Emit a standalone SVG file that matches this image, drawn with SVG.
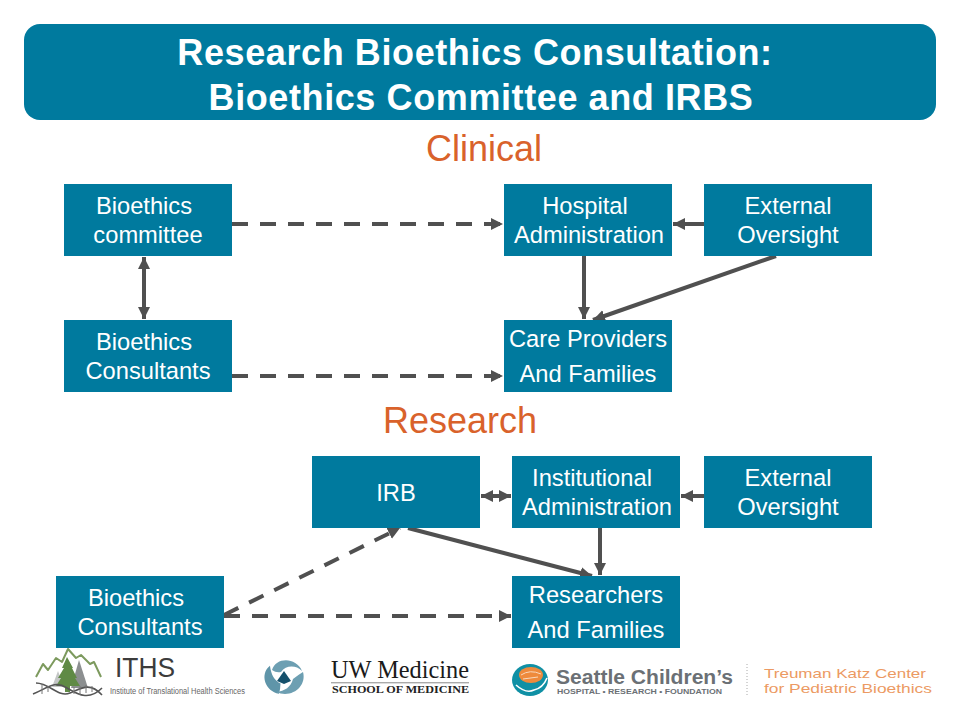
<svg xmlns="http://www.w3.org/2000/svg" width="960" height="720" viewBox="0 0 960 720">
<style>
text{font-family:"Liberation Sans",Arial,sans-serif}
.box{fill:#007a9e}
.t{fill:#fff;font-size:23.7px;text-anchor:middle}
.h{fill:#d9622b;font-size:36px;text-anchor:middle}
.title{fill:#fff;font-size:36px;font-weight:bold;text-anchor:middle;letter-spacing:.6px}
.c{fill:none;stroke:#505050;stroke-width:4}
.d{stroke-dasharray:16 12}
.serif{font-family:"Liberation Serif",serif}
</style>
<defs>
<marker id="a" markerUnits="userSpaceOnUse" markerWidth="13" markerHeight="14" refX="12" refY="7" orient="auto-start-reverse"><path d="M0 1L12 7L0 13z" fill="#505050"/></marker>
</defs>
<rect width="960" height="720" fill="#fff"/>
<g id="title"><rect class="box" x="24" y="24" width="912" height="96" rx="16"/>
<text class="title" x="475" y="65">Research Bioethics Consultation:</text>
<text class="title" x="481" y="110">Bioethics Committee and IRBS</text></g>
<text class="h" x="484" y="161">Clinical</text>
<text class="h" x="460" y="433">Research</text>
<g id="connectors">
<path class="c d" marker-end="url(#a)" d="M232 224H503"/>
<path class="c" marker-end="url(#a)" d="M704 224H673"/>
<path class="c" marker-end="url(#a)" d="M584 256V319"/>
<path class="c" marker-end="url(#a)" d="M776 256L593 320"/>
<path class="c" marker-start="url(#a)" marker-end="url(#a)" d="M144 257V319"/>
<path class="c d" marker-end="url(#a)" d="M232 376H503"/>
<path class="c" marker-start="url(#a)" marker-end="url(#a)" d="M481 496H511"/>
<path class="c" marker-end="url(#a)" d="M704 496H681"/>
<path class="c" marker-end="url(#a)" d="M600 528V575"/>
<path class="c" marker-end="url(#a)" d="M408 528L592 576"/>
<path class="c d" marker-end="url(#a)" d="M224 615L400 528"/>
<path class="c d" marker-end="url(#a)" d="M224 616H511"/>
</g>
<g id="n1"><rect class="box" x="64" y="184" width="168" height="72"/><text class="t" x="144" y="214">Bioethics</text><text class="t" x="148" y="243">committee</text></g>
<g id="n2"><rect class="box" x="504" y="184" width="168" height="72"/><text class="t" x="585" y="214">Hospital</text><text class="t" x="589" y="243">Administration</text></g>
<g id="n3"><rect class="box" x="704" y="184" width="168" height="72"/><text class="t" x="788" y="214">External</text><text class="t" x="788" y="243">Oversight</text></g>
<g id="n4"><rect class="box" x="64" y="320" width="168" height="72"/><text class="t" x="144" y="350">Bioethics</text><text class="t" x="148" y="379">Consultants</text></g>
<g id="n5"><rect class="box" x="504" y="320" width="168" height="72"/><text class="t" x="588" y="347">Care Providers</text><text class="t" x="588" y="382">And Families</text></g>
<g id="n6"><rect class="box" x="312" y="456" width="168" height="72"/><text class="t" x="396" y="501">IRB</text></g>
<g id="n7"><rect class="box" x="512" y="456" width="168" height="72"/><text class="t" x="592" y="486">Institutional</text><text class="t" x="597" y="515">Administration</text></g>
<g id="n8"><rect class="box" x="704" y="456" width="168" height="72"/><text class="t" x="788" y="486">External</text><text class="t" x="788" y="515">Oversight</text></g>
<g id="n9"><rect class="box" x="56" y="576" width="168" height="72"/><text class="t" x="136" y="606">Bioethics</text><text class="t" x="140" y="635">Consultants</text></g>
<g id="n10"><rect class="box" x="512" y="576" width="168" height="72"/><text class="t" x="596" y="603">Researchers</text><text class="t" x="596" y="638">And Families</text></g>
<g id="logo-iths">
<path d="M36 677L43 664L48 670L56 658L62 662L68 649L76 658L81 655L90 664L94 662L101 677" fill="none" stroke="#7d9a5e" stroke-width="2" stroke-linejoin="round"/>
<path d="M58 671L52 687H64z" fill="#c4c6c6"/>
<path d="M79 660L71 688H88z" fill="#8c8f90"/>
<path d="M67 657L62 668H64L58 678H61L56 686H65V692H70V686H80L75 678H77L72 668H73z" fill="#5f8a45"/>
<path d="M33 694C48 688 54 680 67 688S90 700 102 688M36 683C50 683 58 698 70 693S90 682 102 695" fill="none" stroke="#555" stroke-width="1.6"/>
<path d="M42 684V694M48 686V692M74 687V694M80 686V695M86 685V693M92 686V692" stroke="#777" stroke-width="1"/>
<text x="115" y="677" font-size="27" fill="#3c3c3c" textLength="60" lengthAdjust="spacingAndGlyphs">ITHS</text>
<text x="110" y="694" font-size="8.5" fill="#666" textLength="135" lengthAdjust="spacingAndGlyphs">Institute of Translational Health Sciences</text>
</g>
<g id="logo-uw-mark">
<path d="M272 670C276 657 296 657 302 671C296 665 286 665 281 672Q276 673 272 670z" fill="#6d9fb2"/>
<path d="M277 694C264 690 260 672 272 665C272 674 274 680 280 684Q279 690 277 694z" fill="#5f95a9" transform="rotate(-8 277 680)"/>
<path d="M303 672C307 686 292 699 276 692C285 691 291 687 293 679Q298 675 303 672z" fill="#6d9fb2"/>
<path d="M284 671L277 681L284 684L291 681z" fill="#14506b"/>
</g>
<g id="logo-uw">
<text x="331" y="678" class="serif" font-size="25" fill="#1a1a1a" textLength="138" lengthAdjust="spacingAndGlyphs">UW Medicine</text>
<rect x="331" y="682" width="138" height="1.4" fill="#aaa"/>
<text x="332" y="693" class="serif" font-size="10" font-weight="bold" fill="#222" textLength="137" lengthAdjust="spacingAndGlyphs">SCHOOL OF MEDICINE</text>
</g>
<g id="logo-sc">
<ellipse cx="530" cy="680" rx="18" ry="16" fill="#0f90a5"/>
<ellipse cx="531" cy="675" rx="12" ry="8" fill="#ee8a3c"/>
<path d="M521 675Q530 669 541 674M523 679L538 677" fill="none" stroke="#f9d9bd" stroke-width="1"/>
<path d="M516 685Q526 694 534 690Q543 688 547 678" fill="none" stroke="#fff" stroke-width="1.6"/>
<text x="556" y="684" font-size="20" font-weight="bold" fill="#6b7075" textLength="177" lengthAdjust="spacingAndGlyphs">Seattle Children’s</text>
<text x="557" y="694" font-size="7" font-weight="bold" fill="#6b7075" textLength="165" lengthAdjust="spacingAndGlyphs">HOSPITAL • RESEARCH • FOUNDATION</text>
<path d="M747 664V696" stroke="#aaa" stroke-width="1" stroke-dasharray="1 2"/>
<text x="764" y="678" font-size="13.5" fill="#ec9a63" textLength="162" lengthAdjust="spacingAndGlyphs">Treuman Katz Center</text>
<text x="764" y="693" font-size="13.5" fill="#ec9a63" textLength="168" lengthAdjust="spacingAndGlyphs">for Pediatric Bioethics</text>
</g>
</svg>
